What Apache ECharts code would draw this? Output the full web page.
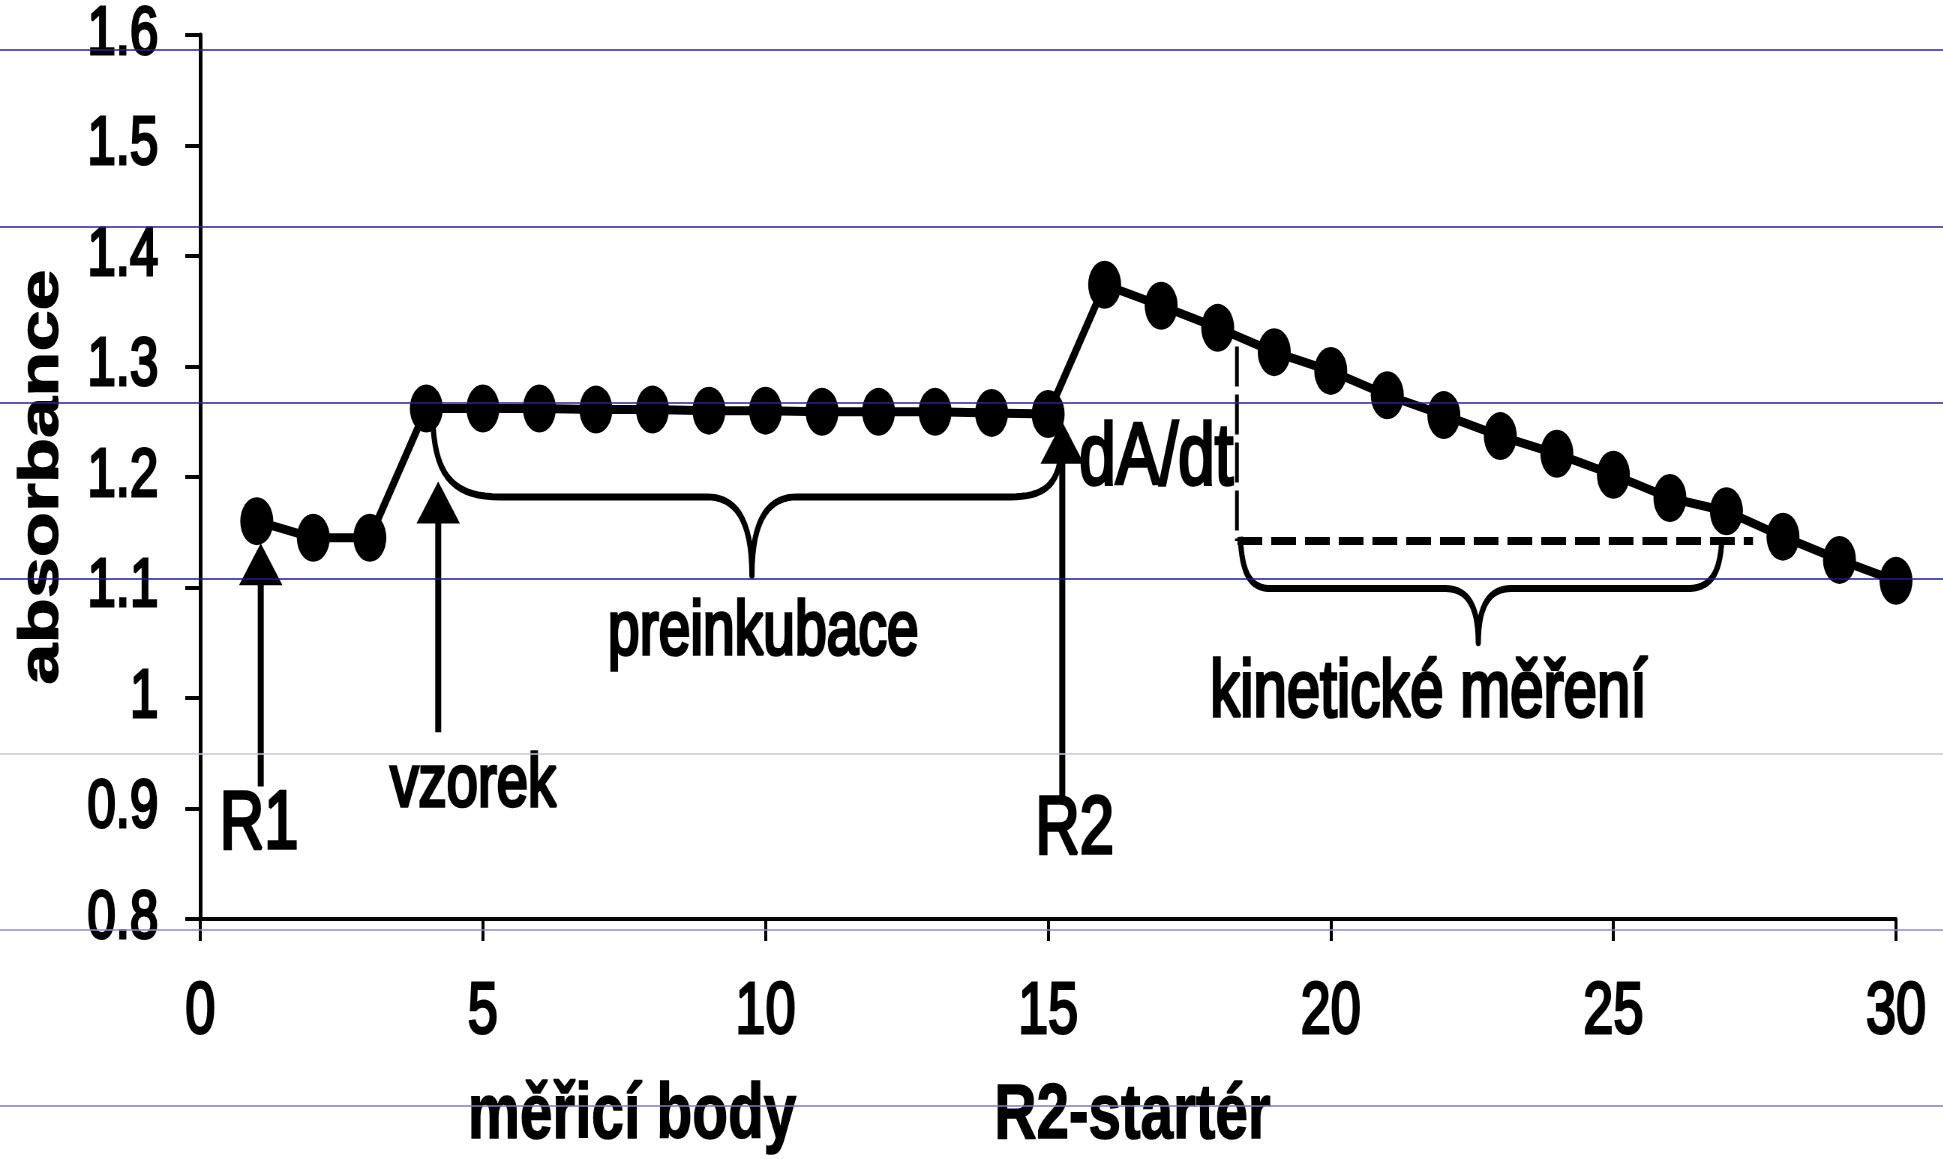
<!DOCTYPE html>
<html>
<head>
<meta charset="utf-8">
<script src="https://cdn.jsdelivr.net/npm/echarts@6/dist/echarts.min.js"></script>
<style>
html, body { margin: 0; padding: 0; background: #fff; overflow: hidden; width: 1943px; height: 1159px; }
#chart { width: 2591px; height: 1159px; transform: scaleX(0.75); transform-origin: 0 0; }
</style>
</head>
<body>
<div id="chart"></div>
<script>
// ---- data ----
const measuringPoints = [1, 2, 3, 4, 5, 6, 7, 8, 9, 10, 11, 12, 13, 14, 15, 16, 17, 18, 19, 20, 21, 22, 23, 24, 25, 26, 27, 28, 29, 30];
const absorbance = [1.160, 1.145, 1.145, 1.262, 1.262, 1.262, 1.261, 1.261, 1.260, 1.260, 1.259, 1.259, 1.259, 1.258, 1.257,
                    1.374, 1.355, 1.335, 1.313, 1.296, 1.274, 1.256, 1.237, 1.221, 1.202, 1.181, 1.169, 1.146, 1.125, 1.106];
const xTickRange = [0, 30, 5];
const yTickRange = [0.8, 1.6, 0.1];
const yAxisTitle = 'absorbance';
const xAxisTitleLeft = 'měřicí body';
const xAxisTitleRight = 'R2-startér';

// annotation anchors in data units
const arrowMarks = [
  { x: 1.07, tip: 1.140, bottom: 0.920 },
  { x: 4.21, tip: 1.196, bottom: 0.969 },
  { x: 15.25, tip: 1.250, bottom: 0.911 }
];
const textMarks = [
  { text: 'R1', x: 1.04, y: 0.885, size: 82 },
  { text: 'vzorek', x: 4.83, y: 0.921, size: 75 },
  { text: 'preinkubace', x: 9.96, y: 1.059, size: 76 },
  { text: 'R2', x: 15.47, y: 0.880, size: 82 },
  { text: 'dA/dt', x: 16.91, y: 1.216, size: 88 },
  { text: 'kinetické měření', x: 21.73, y: 1.004, size: 80 }
];
const braceMarks = [
  { left: [4.12, 1.245], barStart: 5.31, barLevel: 1.182, tip: [9.76, 1.111], spread: 0.8, barEnd: 14.33, right: [15.23, 1.223] },
  { left: [18.40, 1.146], barStart: 18.95, barLevel: 1.099, tip: [22.61, 1.050], spread: 0.58, barEnd: 26.29, right: [26.92, 1.144] }
];
const dashedMarks = [
  { from: [18.35, 1.142], to: [27.47, 1.142], kind: 'h' },
  { from: [18.34, 1.318], to: [18.34, 1.142], kind: 'v' }
];
const scanLines = [
  { y: 50, color: '#26268c' }, { y: 227, color: '#26268c' }, { y: 403, color: '#26268c' }, { y: 579, color: '#1e1e88' },
  { y: 754, color: '#c6c6e2' }, { y: 930, color: '#8c8cc8' }, { y: 1106, color: '#7c7cc4' }
];

const FONT = '"Liberation Sans", Arial, sans-serif';
const FONT_NARROW = '"Liberation Sans Narrow", "Arial Narrow", "Liberation Sans", sans-serif';

const chart = echarts.init(document.getElementById('chart'));

const option = {
  animation: false,
  backgroundColor: '#ffffff',
  grid: { left: 267, right: 63, top: 35, bottom: 240, containLabel: false, outerBoundsMode: 'none' },
  xAxis: {
    type: 'value', min: xTickRange[0], max: xTickRange[1], interval: xTickRange[2],
    axisLine: { show: true, lineStyle: { color: '#000', width: 4 } },
    axisTick: { show: true, length: 22, lineStyle: { color: '#000', width: 4 } },
    axisLabel: { color: '#000', fontSize: 72, fontFamily: FONT, margin: 58, textBorderColor: '#000', textBorderWidth: 3 },
    splitLine: { show: false },
    name: '{a|' + xAxisTitleLeft + '}{g| }{b|' + xAxisTitleRight + '}',
    nameLocation: 'middle',
    nameGap: 158,
    nameTextStyle: {
      padding: [0, 477, 0, 0],
      rich: {
        a: { fontFamily: FONT_NARROW, fontWeight: 'bold', fontSize: 78, color: '#000', textBorderColor: '#000', textBorderWidth: 1.5 },
        g: { width: 264, fontSize: 78 },
        b: { fontFamily: FONT_NARROW, fontWeight: 'bold', fontSize: 78, color: '#000', textBorderColor: '#000', textBorderWidth: 1.5 }
      }
    }
  },
  yAxis: {
    type: 'value', min: yTickRange[0], max: yTickRange[1], interval: yTickRange[2],
    axisLine: { show: true, lineStyle: { color: '#000', width: 5 } },
    axisTick: { show: true, length: 20, lineStyle: { color: '#000', width: 4 } },
    axisLabel: { color: '#000', fontSize: 68, fontFamily: FONT, margin: 56, textBorderColor: '#000', textBorderWidth: 3 },
    splitLine: { show: false },
    name: yAxisTitle,
    nameLocation: 'middle',
    nameRotate: 90,
    nameGap: 173,
    nameTextStyle: { color: '#000', fontSize: 74, fontWeight: 'bold', fontFamily: FONT, textBorderColor: '#000', textBorderWidth: 1.5 }
  },
  series: [{
    type: 'line',
    data: measuringPoints.map((x, i) => [x, absorbance[i]]),
    symbol: 'circle',
    symbolSize: [44, 48],
    showAllSymbol: true,
    itemStyle: { color: '#000' },
    lineStyle: { color: '#000', width: 9 },
    z: 5
  }]
};
chart.setOption(option);

const px = (x, y) => chart.convertToPixel({ gridIndex: 0 }, [x, y]);
const graphics = [];

arrowMarks.forEach(a => {
  const t = px(a.x, a.tip), b = px(a.x, a.bottom);
  const hw = 29, hh = 42;
  graphics.push({ type: 'line', z: 10, shape: { x1: t[0], y1: t[1] + hh - 4, x2: b[0], y2: b[1] }, style: { stroke: '#000', lineWidth: 8 } });
  graphics.push({ type: 'polygon', z: 10, shape: { points: [[t[0], t[1]], [t[0] - hw, t[1] + hh], [t[0] + hw, t[1] + hh]] }, style: { fill: '#000' } });
});

textMarks.forEach(m => {
  const p = px(m.x, m.y);
  graphics.push({ type: 'text', z: 10, x: p[0], y: p[1], style: {
    text: m.text, fill: '#000', fontSize: m.size, fontFamily: FONT,
    stroke: '#000', lineWidth: 3.5,
    textAlign: 'center', textVerticalAlign: 'middle', align: 'center', verticalAlign: 'middle' } });
});

function cubic(p0, p1, p2, p3, n) {
  const out = [];
  for (let i = 1; i <= n; i++) {
    const t = i / n, u = 1 - t;
    out.push([
      u * u * u * p0[0] + 3 * u * u * t * p1[0] + 3 * u * t * t * p2[0] + t * t * t * p3[0],
      u * u * u * p0[1] + 3 * u * u * t * p1[1] + 3 * u * t * t * p2[1] + t * t * t * p3[1]
    ]);
  }
  return out;
}

braceMarks.forEach(b => {
  const L = px(b.left[0], b.left[1]);
  const S = px(b.barStart, b.barLevel);
  const T = px(b.tip[0], b.tip[1]);
  const tl = px(b.tip[0] - b.spread, b.barLevel);
  const tr = px(b.tip[0] + b.spread, b.barLevel);
  const E = px(b.barEnd, b.barLevel);
  const R = px(b.right[0], b.right[1]);
  const yb = S[1];
  let pts = [L];
  pts = pts.concat(cubic(L, [L[0] + 0.05 * (S[0] - L[0]), L[1] + 0.75 * (yb - L[1])], [L[0] + 0.35 * (S[0] - L[0]), yb], [S[0], yb], 16));
  pts.push([tl[0], yb]);
  pts = pts.concat(cubic([tl[0], yb], [tl[0] + 0.6 * (T[0] - tl[0]), yb], [T[0], yb + 0.25 * (T[1] - yb)], T, 16));
  pts = pts.concat(cubic(T, [T[0], yb + 0.25 * (T[1] - yb)], [tr[0] - 0.6 * (tr[0] - T[0]), yb], [tr[0], yb], 16));
  pts.push([E[0], yb]);
  pts = pts.concat(cubic([E[0], yb], [E[0] + 0.65 * (R[0] - E[0]), yb], [R[0] - 0.05 * (R[0] - E[0]), R[1] + 0.75 * (yb - R[1])], R, 16));
  graphics.push({ type: 'polyline', z: 9, shape: { points: pts }, style: { fill: null, stroke: '#000', lineWidth: 7, lineJoin: 'round' } });
});

dashedMarks.forEach(m => {
  const a = px(m.from[0], m.from[1]), b = px(m.to[0], m.to[1]);
  graphics.push({ type: 'line', z: 9, shape: { x1: a[0], y1: a[1], x2: b[0], y2: b[1] },
    style: m.kind === 'h' ? { stroke: '#000', lineWidth: 8, lineDash: [33, 12] } : { stroke: '#000', lineWidth: 5, lineDash: [40, 8] } });
});

scanLines.forEach(s => {
  graphics.push({ type: 'line', z: 100, silent: true, shape: { x1: 0, y1: s.y, x2: 2591, y2: s.y }, style: { stroke: s.color, lineWidth: 1.5 } });
});

chart.setOption({ graphic: graphics });
</script>
</body>
</html>
